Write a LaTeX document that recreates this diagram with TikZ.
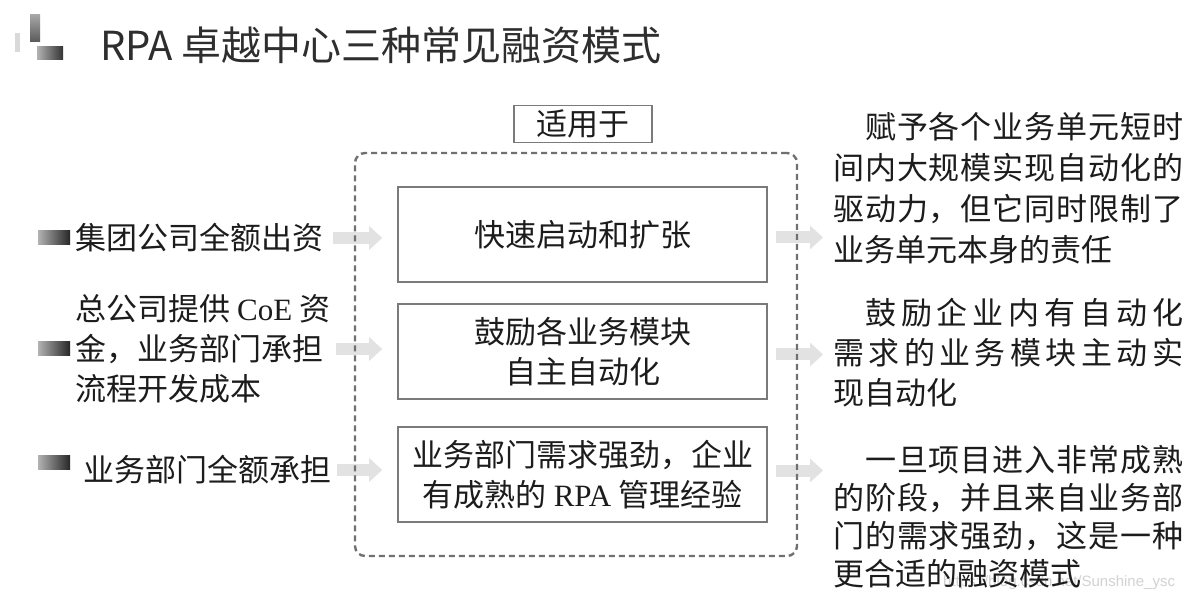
\documentclass[tikz,border=0pt]{standalone}
\usepackage{fontspec}
\setmainfont{Liberation Serif}
\newfontfamily\cjk{Noto Sans CJK SC}
\newfontfamily\wmfont{Liberation Sans}
\usetikzlibrary{arrows.meta,calc}
\definecolor{txt}{HTML}{1C1C1C}
\definecolor{titlec}{HTML}{2E2E2E}
\definecolor{boxgray}{HTML}{7A7A7A}
\definecolor{dashgray}{HTML}{707070}
\definecolor{arrowgray}{HTML}{E2E2E2}
\makeatletter
\def\sprd#1{\sprd@a#1\relax}
\def\sprd@a#1{#1\sprd@b}
\def\sprd@b#1{\ifx#1\relax\else\hfil#1\expandafter\sprd@b\fi}
\makeatother
\newcommand\jline[1]{\hbox to 350pt{\sprd{#1}}}
\newcommand\jind[1]{\hbox to 350pt{\hspace*{32pt}\sprd{#1}}}
\tikzset{
  body/.style={font=\cjk\fontsize{31}{40}\selectfont, text=txt, inner sep=0pt},
  box/.style={body, draw=boxgray, line width=1.6pt, minimum width=369pt,
    minimum height=95pt, align=center},
  frame/.style={draw=dashgray, line width=2.4pt, dash pattern=on 6pt off 4pt,
    rounded corners=10pt},
  arr/.style={draw=arrowgray, line width=12pt, -{Triangle[width=23pt,length=13pt]}},
  bulletbox/.style={rectangle, inner sep=0pt, minimum width=32pt, minimum height=14pt,
    left color=gray!60, right color=black!85},
  rtext/.style={body, align=left, anchor=west}
}
\begin{document}
\begin{tikzpicture}[x=1pt,y=-1pt]
\useasboundingbox (0,0) rectangle (1199,601);
\fill[white] (0,0) rectangle (1199,601);
% title icon
\fill[gray!30] (15,33) rectangle (20,52);
\shade[top color=gray!70, bottom color=black!65] (30,15) rectangle (40,42);
\shade[left color=gray!60, right color=black!80] (37,47) rectangle (63,60);
\node[font=\cjk\fontsize{40}{48}\selectfont, text=titlec, anchor=west, inner sep=0pt] (title) at (100,45) {RPA 卓越中心三种常见融资模式};
% watermark
\node[font=\wmfont\fontsize{15}{18}\selectfont, text=gray!35, anchor=west, inner sep=0pt] (wm) at (943,583) {https://blog.csdn.net/Sunshine\_ysc};
% centre boxes
\node[box] (b1) at (582.5,234.5) {快速启动和扩张};
\node[box] (b2) at (582.5,351.5) {鼓励各业务模块\\自主自动化};
\node[box] (b3) at (582.5,474.5) {业务部门需求强劲，企业\\有成熟的 {\rmfamily RPA} 管理经验};
\node[body, draw=boxgray, line width=1.6pt, minimum width=138pt, minimum height=37pt] (lab) at (583,124) {适用于};
% left items
\node[bulletbox] (bu1) at (54,238) {};
\node[bulletbox] (bu2) at (54,349) {};
\node[bulletbox] (bu3) at (54,462) {};
\node[body, anchor=west] (l1) at (75,238) {集团公司全额出资};
\node[body, anchor=west, align=left] (l2) at (75,349) {总公司提供 {\rmfamily CoE} 资\\金，业务部门承担\\流程开发成本};
\node[body, anchor=west] (l3) at (83,470) {业务部门全额承担};
% right items
\node[rtext, font=\cjk\fontsize{31}{41}\selectfont] (r1) at (833,188.5) {\jind{赋予各个业务单元短时}\\\jline{间内大规模实现自动化的}\\\jline{驱动力，但它同时限制了}\\业务单元本身的责任};
\node[rtext, font=\cjk\fontsize{31}{40}\selectfont] (r2) at (833,353) {\jind{鼓励企业内有自动化}\\\jline{需求的业务模块主动实}\\现自动化};
\node[rtext, font=\cjk\fontsize{31}{38}\selectfont] (r3) at (833,516.5) {\jind{一旦项目进入非常成熟}\\\jline{的阶段，并且来自业务部}\\\jline{门的需求强劲，这是一种}\\更合适的融资模式};
% arrows
\draw[arr, shorten <=10pt, shorten >=15pt] (l1.east) -- (l1.east -| b1.west);
\draw[arr, shorten <=6pt, shorten >=15pt] (l2.east |- bu2) -- (bu2 -| b2.west);
\draw[arr, shorten <=6pt, shorten >=15pt] (l3.east) -- (l3.east -| b3.west);
\draw[arr, shorten <=8pt, shorten >=10pt] ($(b1.east)+(0,3)$) -- ($(b1.east -| r1.west)+(0,3)$);
\draw[arr, shorten <=8pt, shorten >=10pt] ($(b2.east)+(0,3)$) -- ($(b2.east -| r2.west)+(0,3)$);
\draw[arr, shorten <=8pt, shorten >=10pt] ($(b3.east)+(0,-4)$) -- ($(b3.east -| r3.west)+(0,-4)$);
% dashed frame
\node[frame, minimum width=442pt, minimum height=403pt, inner sep=0pt] (fr) at (576,354.5) {};
\end{tikzpicture}
\end{document}
